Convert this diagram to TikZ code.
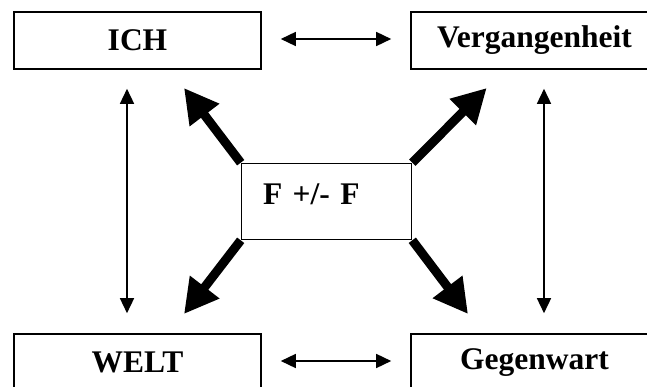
\documentclass[tikz,border=0pt]{standalone}
\usepackage{fontspec}
\setmainfont{Liberation Serif}
\usetikzlibrary{arrows.meta}
\begin{document}
\begin{tikzpicture}[x=1pt,y=-1pt,
  box/.style={draw,line width=1.6pt,inner sep=0pt,minimum width=247pt,minimum height=57pt,
    font=\bfseries\fontsize{31.5}{36}\selectfont},
  centerbox/.style={draw,line width=1.6pt,inner xsep=21.5pt,inner ysep=0pt,text width=127pt,align=left,
    minimum height=76pt,text height=21pt,text depth=15pt,font=\bfseries\fontsize{31.5}{36}\selectfont},
  dbl/.style={line width=1.5pt,{Triangle[length=15pt,width=14pt]}-{Triangle[length=15pt,width=14pt]}},
  fat/.style={line width=9pt,-{Triangle[length=34pt,width=35pt]}}]
\useasboundingbox (0,0) rectangle (647,387);
\node[box] (ich) at (137.5,40.5) {ICH};
\node[box] (verg) at (534.5,40.5) {Vergangenheit};
\node[box] (welt) at (137.5,362.5) {WELT};
\node[box] (geg) at (534.5,362.5) {Gegenwart};
\node[centerbox] (c) at (326.5,201.5) {F +/- F};
\coordinate (tnw) at (184,88);
\coordinate (tne) at (486.7,88);
\coordinate (tsw) at (184,314);
\coordinate (tse) at (468,314);
\draw[dbl,shorten <=19pt,shorten >=19pt] ([yshift=1.5pt]ich.east) -- ([yshift=1.5pt]verg.west);
\draw[dbl,shorten <=19pt,shorten >=19pt] ([yshift=1.5pt]welt.east) -- ([yshift=1.5pt]geg.west);
\draw[dbl,shorten <=19pt,shorten >=20pt] ([xshift=-10.5pt]ich.south) -- ([xshift=-10.5pt]welt.north);
\draw[dbl,shorten <=19pt,shorten >=20pt] ([xshift=9.5pt]verg.south) -- ([xshift=9.5pt]geg.north);
\draw[fat] (c.north west) -- (tnw);
\draw[fat] (c.north east) -- (tne);
\draw[fat] (c.south west) -- (tsw);
\draw[fat] (c.south east) -- (tse);
\end{tikzpicture}
\end{document}
